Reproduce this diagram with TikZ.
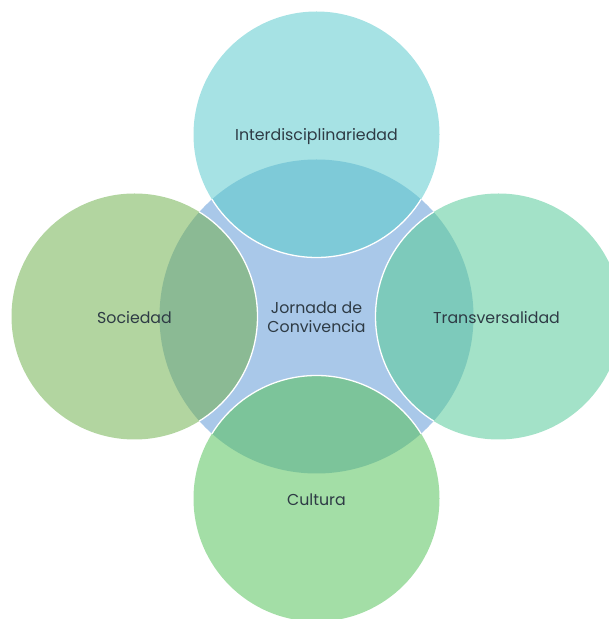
\documentclass[tikz,border=0pt]{standalone}
\usepackage{fontspec}
\setmainfont{Poppins}
\definecolor{txt}{HTML}{2E3B45}
\definecolor{cblue}{HTML}{A9C8E9}
\definecolor{ctop}{HTML}{A6E2E4}
\definecolor{ctopo}{HTML}{7ECAD8}
\definecolor{cleft}{HTML}{B2D5A0}
\definecolor{clefto}{HTML}{8BBA94}
\definecolor{cright}{HTML}{A3E2C8}
\definecolor{crighto}{HTML}{7DCABB}
\definecolor{cbot}{HTML}{A3DEA6}
\definecolor{cboto}{HTML}{7CC49A}
\tikzset{
  lbl/.style={text=txt, font=\fontsize{15.8}{18.5}\selectfont, align=center, inner sep=0pt},
}
\begin{document}
\begin{tikzpicture}[x=1pt,y=1pt]
\useasboundingbox (0,0) rectangle (609,619);
\def\R{123}
\def\Rc{157}
% center circle
\fill[cblue] (316.5,302.5) circle (\Rc);
% outer circles
\fill[ctop] (316.5,484.5) circle (\R);
\fill[cleft] (134.5,302.5) circle (\R);
\fill[cright] (498.5,302.5) circle (\R);
\fill[cbot] (316.5,120.5) circle (\R);
% overlaps
\begin{scope}
\clip (316.5,302.5) circle (\Rc);
\fill[ctopo] (316.5,484.5) circle (\R);
\fill[clefto] (134.5,302.5) circle (\R);
\fill[crighto] (498.5,302.5) circle (\R);
\fill[cboto] (316.5,120.5) circle (\R);
\end{scope}
% white borders
\begin{scope}
\clip (316.5,302.5) circle (\Rc);
\draw[white, line width=1.3pt] (316.5,484.5) circle (\R);
\draw[white, line width=1.3pt] (134.5,302.5) circle (\R);
\draw[white, line width=1.3pt] (498.5,302.5) circle (\R);
\draw[white, line width=1.3pt] (316.5,120.5) circle (\R);
\end{scope}
\node[lbl] (center) at (316.5,302) {Jornada de\\Convivencia};
\node[lbl] (top) at (316.5,482.5) {Interdisciplinariedad};
\node[lbl] (left) at (134.5,301) {Sociedad};
\node[lbl] (right) at (496.5,301) {Transversalidad};
\node[lbl] (bot) at (316.5,119) {Cultura};
\end{tikzpicture}
\end{document}
